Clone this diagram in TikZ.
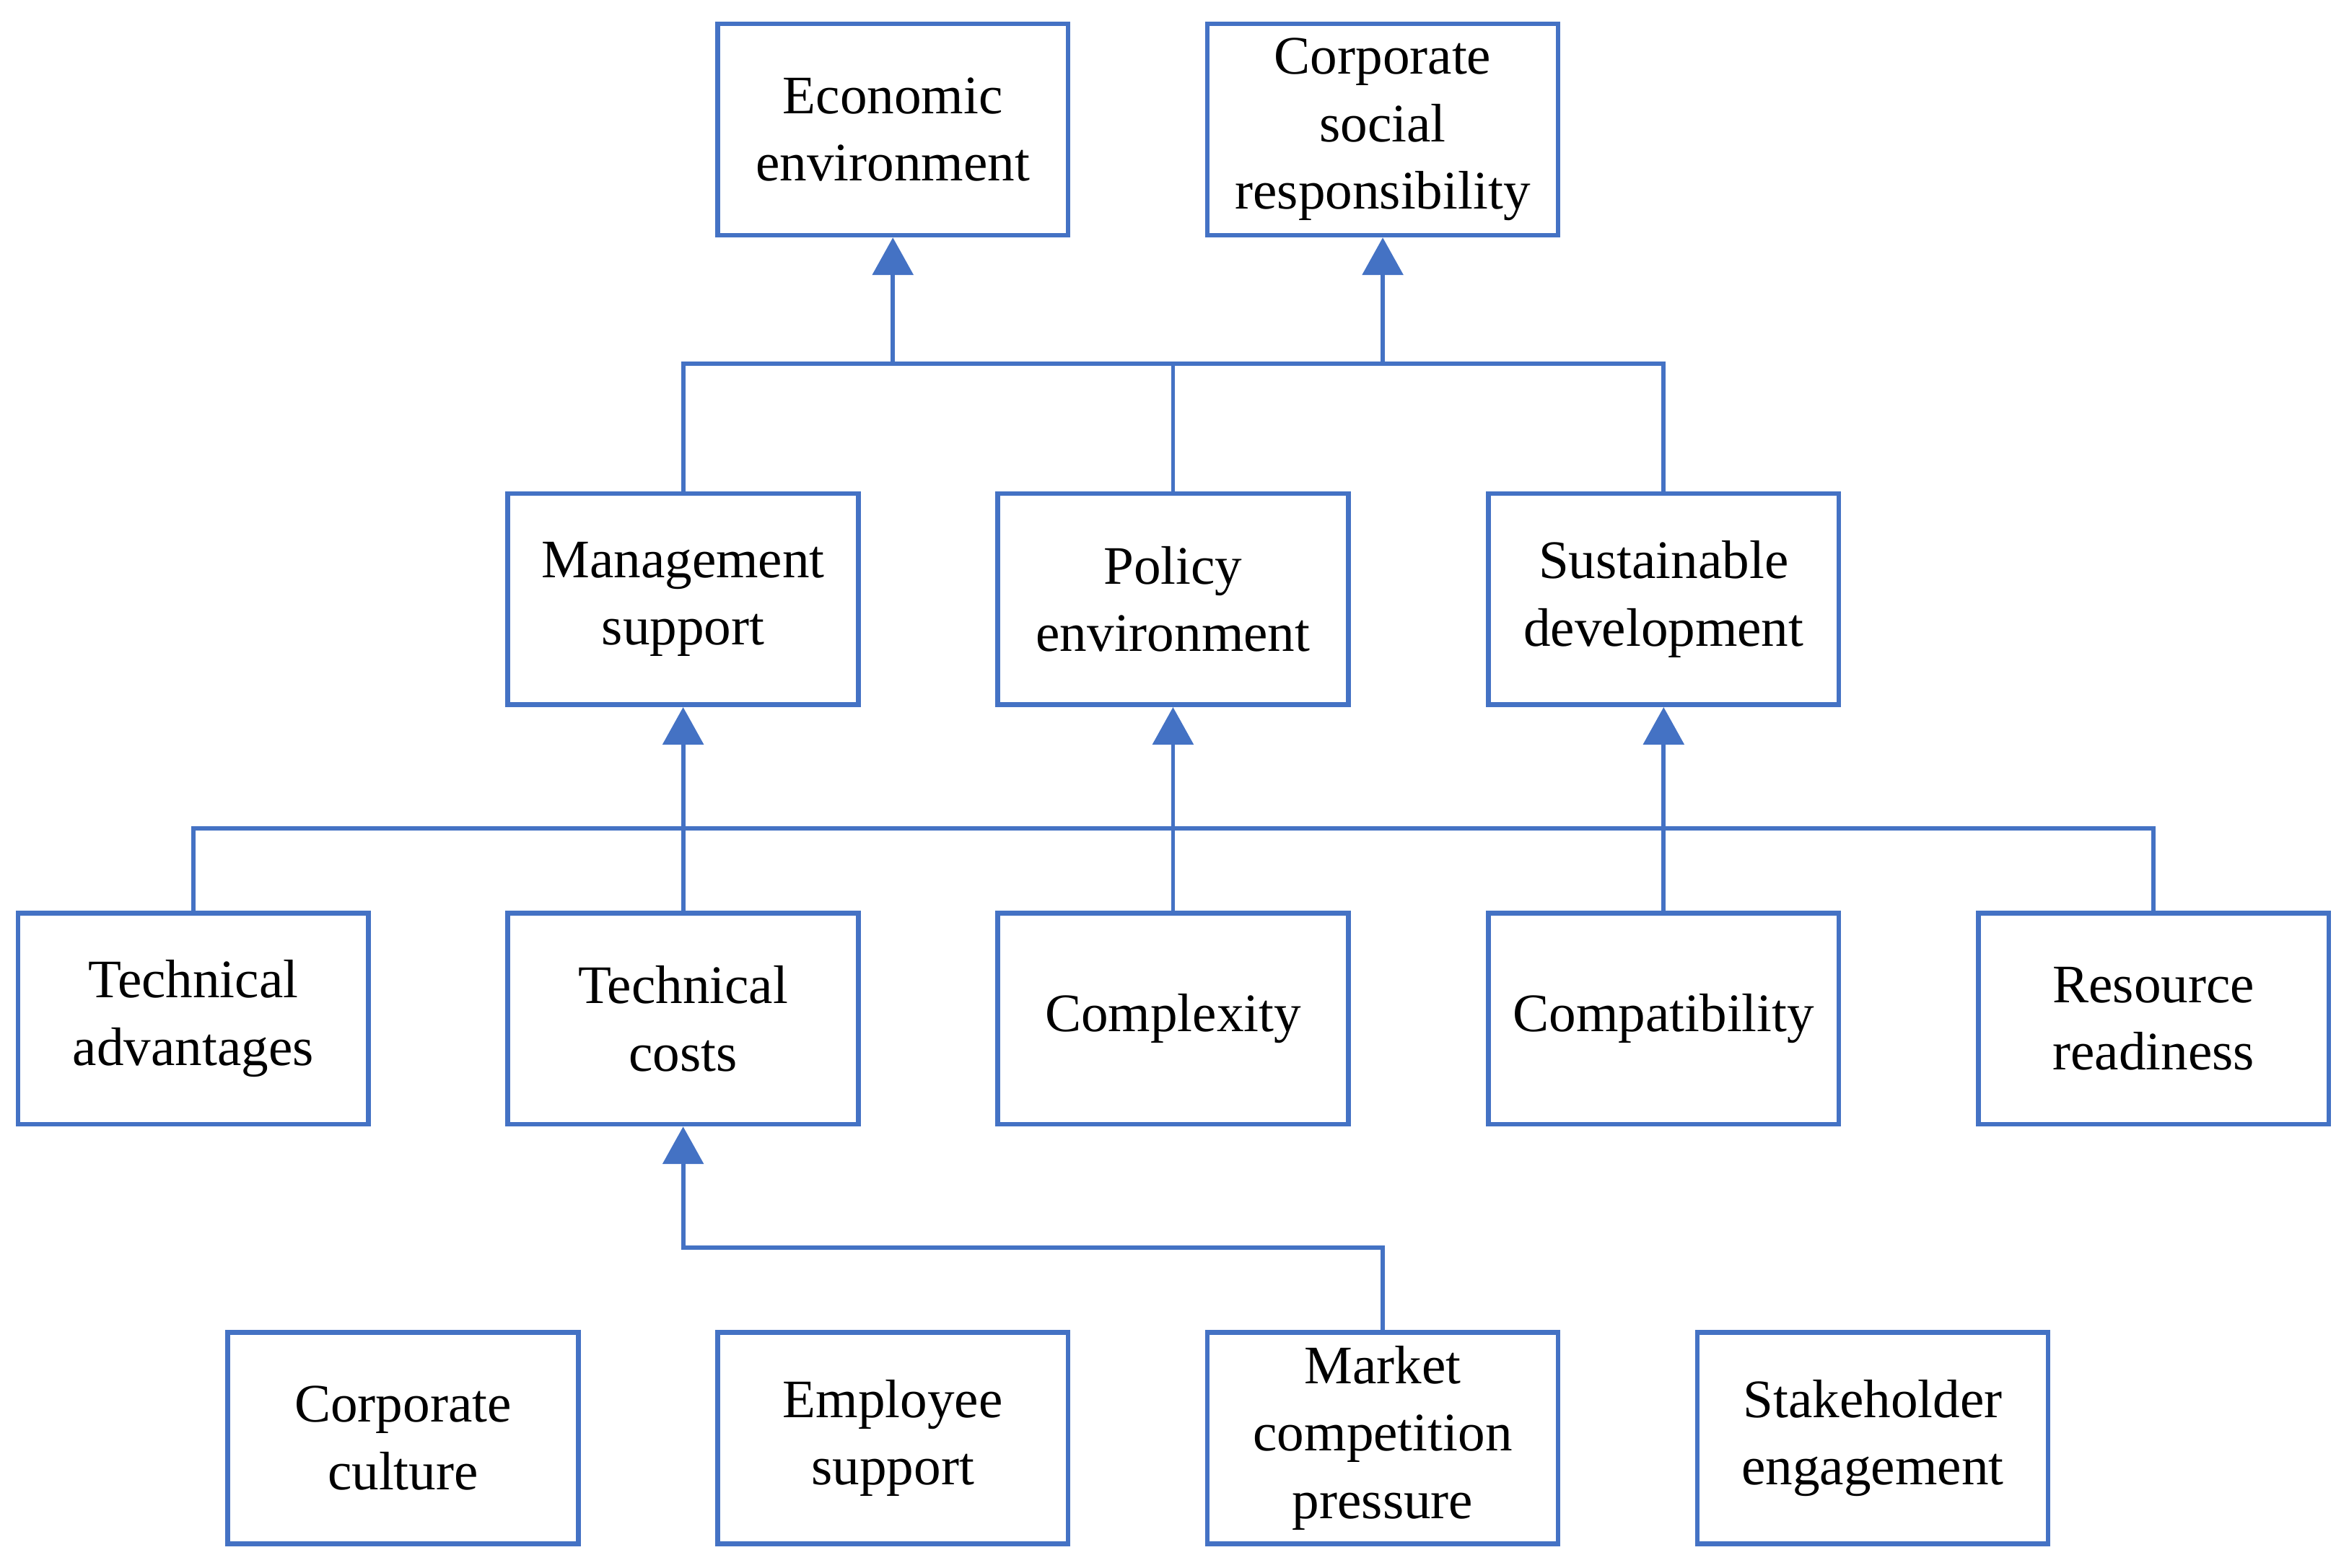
\documentclass[tikz,border=0pt]{standalone}
\usepackage{fontspec}
\setmainfont{Liberation Serif}
\usetikzlibrary{arrows.meta}
\definecolor{boxblue}{HTML}{4472C4}
\begin{document}
\begin{tikzpicture}[box/.style={rectangle,draw=boxblue,line width=0.9pt,fill=white,
					minimum width=2.34cm,minimum height=1.41cm,inner sep=1pt,align=center,
					font=\fontsize{10.3}{12.8}\selectfont},
				link/.style={draw=boxblue,line width=0.8pt},
				arr/.style={link,-{Triangle[length=0.25cm,width=0.27cm]}}]
\useasboundingbox (0,0) rectangle (15.68,-10.467);
\node[box] (ecoenv) at (5.96,-0.865) {Economic\\environment};
\node[box] (csr) at (9.23,-0.865) {Corporate\\social\\responsibility};
\node[box] (mgmt) at (4.56,-4.00) {Management\\support};
\node[box] (policy) at (7.83,-4.00) {Policy\\environment};
\node[box] (sustain) at (11.105,-4.00) {Sustainable\\development};
\node[box] (techadv) at (1.29,-6.80) {Technical\\advantages};
\node[box] (techcost) at (4.56,-6.80) {Technical\\costs};
\node[box] (complex) at (7.83,-6.80) {Complexity};
\node[box] (compat) at (11.105,-6.80) {Compatibility};
\node[box] (resource) at (14.375,-6.80) {Resource\\readiness};
\node[box] (culture) at (2.69,-9.60) {Corporate\\culture};
\node[box] (employee) at (5.96,-9.60) {Employee\\support};
\node[box] (market) at (9.23,-9.60) {Market\\competition\\pressure};
\node[box] (stake) at (12.50,-9.60) {Stakeholder\\engagement};
\draw[link] (mgmt.north) -- ++(0,0.85) coordinate (bustop) -| (sustain.north);
\draw[link] (policy.north) -- (policy.north |- bustop);
\draw[arr] (ecoenv.south |- bustop) -- (ecoenv.south);
\draw[arr] (csr.south |- bustop) -- (csr.south);
\draw[link] (techadv.north) -- ++(0,0.55) coordinate (busmid) -| (resource.north);
\foreach \n in {techcost,complex,compat}
	\draw[link] (\n.north) -- (\n.north |- busmid);
\foreach \n in {mgmt,policy,sustain}
	\draw[arr] (\n.south |- busmid) -- (\n.south);
\draw[arr] (market.north) -- ++(0,0.55) -| (techcost.south);
\end{tikzpicture}
\end{document}
